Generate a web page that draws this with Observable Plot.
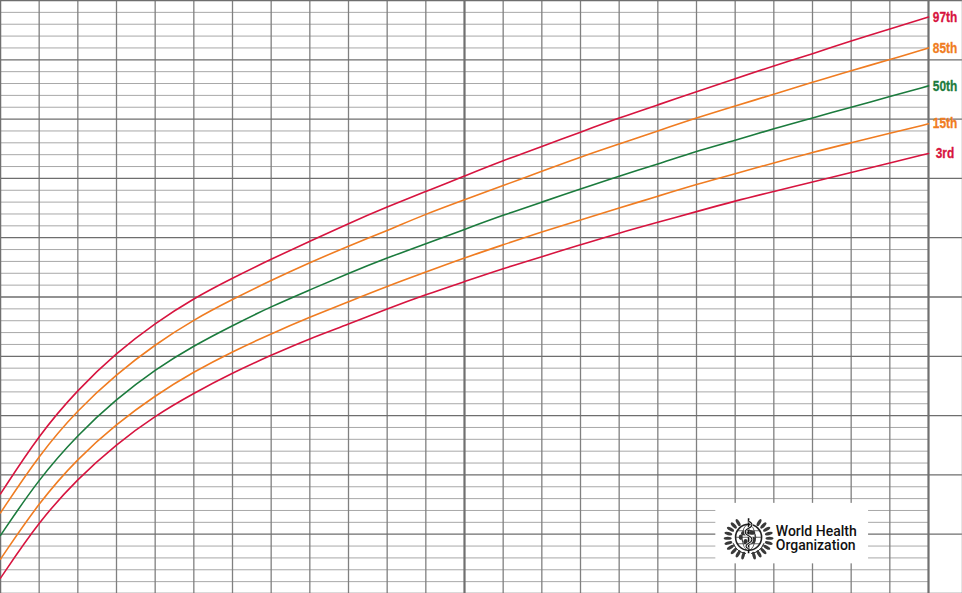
<!DOCTYPE html>
<html>
<head>
<meta charset="utf-8">
<script src="https://cdn.jsdelivr.net/npm/d3@7"></script>
<script src="https://cdn.jsdelivr.net/npm/@observablehq/plot@0.6"></script>
<style>
  html, body { margin: 0; padding: 0; background: #fff; }
  #chart svg { display: block; }
</style>
</head>
<body>
<div id="chart"></div>
<script>
// Age in completed months (0–24)
const ageMonths = [0,1,2,3,4,5,6,7,8,9,10,11,12,13,14,15,16,17,18,19,20,21,22,23,24];
// Length (cm) percentiles
const p3  = [46.3,51.1,54.7,57.6,60.0,61.9,63.6,65.1,66.5,67.7,69.0,70.2,71.3,72.4,73.4,74.4,75.4,76.3,77.2,78.1,78.9,79.7,80.5,81.3,82.1];
const p15 = [47.9,52.7,56.4,59.3,61.7,63.7,65.4,66.9,68.3,69.6,70.9,72.1,73.3,74.4,75.5,76.5,77.5,78.5,79.5,80.4,81.3,82.2,83.0,83.8,84.6];
const p50 = [49.9,54.7,58.4,61.4,63.9,65.9,67.6,69.2,70.6,72.0,73.3,74.5,75.7,76.9,78.0,79.1,80.2,81.2,82.3,83.2,84.2,85.1,86.0,86.9,87.8];
const p85 = [51.8,56.7,60.5,63.5,66.0,68.1,69.8,71.4,72.9,74.3,75.6,77.0,78.2,79.4,80.6,81.8,82.9,84.0,85.1,86.1,87.1,88.1,89.1,90.0,91.0];
const p97 = [53.4,58.4,62.2,65.3,67.8,69.9,71.6,73.2,74.7,76.2,77.6,78.9,80.2,81.5,82.7,83.9,85.1,86.2,87.3,88.4,89.5,90.5,91.6,92.6,93.6];
const seriesNames  = ["97th","85th","50th","15th","3rd"];
const seriesValues = [p97, p85, p50, p15, p3];
const seriesColors = ["#d7143f","#f07c21","#1b7b3d","#f07c21","#d7143f"];

// Grid (cm)
const lengthMinor = d3.range(45, 96, 1);
const lengthMajor = d3.range(45, 96, 5);
const yearLines = [0, 12, 24];

const W = 962, H = 593, MR = 34;
const xDomain = [0, 24], yDomain = [45, 95];
const xEdge = xDomain[1] + (xDomain[1] - xDomain[0]) * MR / (W - MR);

const rows = [];
seriesNames.forEach((name, i) => {
  ageMonths.forEach((m, j) => rows.push({series: name, age: m, len: seriesValues[i][j], color: seriesColors[i]}));
});
const ends = seriesNames.map((name, i) => ({series: name, age: ageMonths[ageMonths.length-1], len: seriesValues[i][seriesValues[i].length-1], color: seriesColors[i]}));

// logo box in data coordinates (months, cm)
const logoBox = [{x1: 18.5, x2: 22.45, y1: 47.5, y2: 52.6}];
const logoText = [
  {age: 20.05, len: 50.25, text: "World Health"},
  {age: 20.05, len: 49.05, text: "Organization"}
];

const chart = Plot.plot({
  width: W, height: H,
  marginLeft: 0, marginTop: 0, marginBottom: 0, marginRight: MR,
  x: {domain: xDomain, axis: null},
  y: {domain: yDomain, axis: null},
  marks: [
    Plot.ruleY(lengthMinor.filter(v => v % 5 !== 0), {x1: 0, x2: 24, stroke: "#a8a8a8", strokeWidth: 1}),
    Plot.ruleX(ageMonths.filter(m => !yearLines.includes(m)), {y1: 45, y2: 95, stroke: "#808080", strokeWidth: 1.3}),
    Plot.ruleY(lengthMajor, {x1: 0, x2: xEdge, stroke: "#6e6e6e", strokeWidth: 1.3}),
    Plot.ruleX(yearLines, {y1: 45, y2: 95, stroke: "#707070", strokeWidth: m => m === 0 ? 1.5 : 2.2}),
    Plot.ruleX([xEdge], {y1: 45, y2: 95, stroke: "#9a9a9a", strokeWidth: 1.5}),
    Plot.rect(logoBox, {x1: "x1", x2: "x2", y1: "y1", y2: "y2", fill: "white"}),
    Plot.line(rows, {x: "age", y: "len", z: "series", stroke: "color", strokeWidth: 1.6, curve: "basis"}),
    Plot.text(ends, {x: "age", y: "len", text: "series", fill: "color", dx: 16.5, textAnchor: "middle",
      fontSize: 14.5, fontWeight: "bold", fontFamily: "'Liberation Sans', Arial, sans-serif",
      stroke: "color", strokeWidth: 0.3, className: "pct-label"}),
    Plot.text(logoText, {x: "age", y: "len", text: "text", fill: "#111", textAnchor: "start", lineAnchor: "middle",
      fontSize: 14, fontWeight: 500, fontFamily: "Roboto, 'Liberation Sans', sans-serif"})
  ]
});
document.getElementById("chart").appendChild(chart);

// condense the percentile labels (the original uses a condensed bold face)
d3.select(chart).selectAll(".pct-label text").each(function () {
  const len = this.getComputedTextLength();
  d3.select(this).attr("textLength", len * 0.82).attr("lengthAdjust", "spacingAndGlyphs");
});

// WHO emblem, positioned through the chart's scales
(function drawEmblem() {
  const sx = chart.scale("x"), sy = chart.scale("y");
  const cx = sx.apply(19.36), cy = sy.apply(49.7);
  const svg = d3.select(chart);
  const g = svg.append("g").attr("transform", `translate(${cx},${cy})`)
    .attr("fill", "none").attr("stroke", "#222");
  const R = 13;
  g.append("circle").attr("r", R).attr("stroke-width", 1.6).attr("fill", "#fff");
  g.append("circle").attr("r", R * 0.55).attr("stroke-width", 0.8);
  g.append("ellipse").attr("rx", R * 0.5).attr("ry", R).attr("stroke-width", 0.7);
  [-0.5, 0, 0.5].forEach(f => {
    const yy = f * R, hw = Math.sqrt(R * R - yy * yy);
    g.append("line").attr("x1", -hw).attr("x2", hw).attr("y1", yy).attr("y2", yy).attr("stroke-width", 0.7);
  });
  // continents
  [[-4, -4, 3.5, 2.2], [3.5, -4.5, 3, 2], [4.5, 3, 2.5, 3.2], [-3, 4.5, 2, 2.8], [-8, 0, 1.8, 2.8]].forEach(([x, y, rx, ry]) => {
    g.append("ellipse").attr("cx", x).attr("cy", y).attr("rx", rx).attr("ry", ry).attr("fill", "#333").attr("stroke", "none");
  });
  // staff and serpent
  const snake = "M0,-16 C4.5,-14 4.5,-11 0,-9 C-4.5,-7 -4.5,-3.5 0,-1.5 C4.5,0.5 4.5,4 0,6 C-3.5,8 -3.5,10 0,11.5";
  g.append("line").attr("x1", 0).attr("x2", 0).attr("y1", -R - 6).attr("y2", R + 3).attr("stroke-width", 1.6).attr("stroke", "#111");
  g.append("path").attr("d", snake).attr("stroke-width", 2.4).attr("stroke", "#fff");
  g.append("path").attr("d", snake).attr("stroke-width", 1.1).attr("stroke", "#111");
  // laurels
  [-1, 1].forEach(side => {
    for (let i = 0; i < 10; i++) {
      const deg = 105 + i * 15;
      const a = deg * Math.PI / 180;
      const r = R + 6;
      const x = side * -Math.cos(a) * r * 1.1, y = Math.sin(a) * r * 0.95 + 1;
      const rot = side * -(deg - 90);
      g.append("ellipse").attr("cx", x).attr("cy", y).attr("rx", 1.6).attr("ry", 4)
        .attr("transform", `rotate(${rot},${x},${y})`).attr("fill", "#3a3a3a").attr("stroke", "none");
    }
    g.append("path").attr("d", d3.arc()({innerRadius: R + 3.5, outerRadius: R + 3.5,
      startAngle: side * Math.PI * 0.62, endAngle: side * Math.PI * 0.95}))
      .attr("stroke-width", 0.8).attr("stroke", "#333");
  });
})();
</script>
</body>
</html>
